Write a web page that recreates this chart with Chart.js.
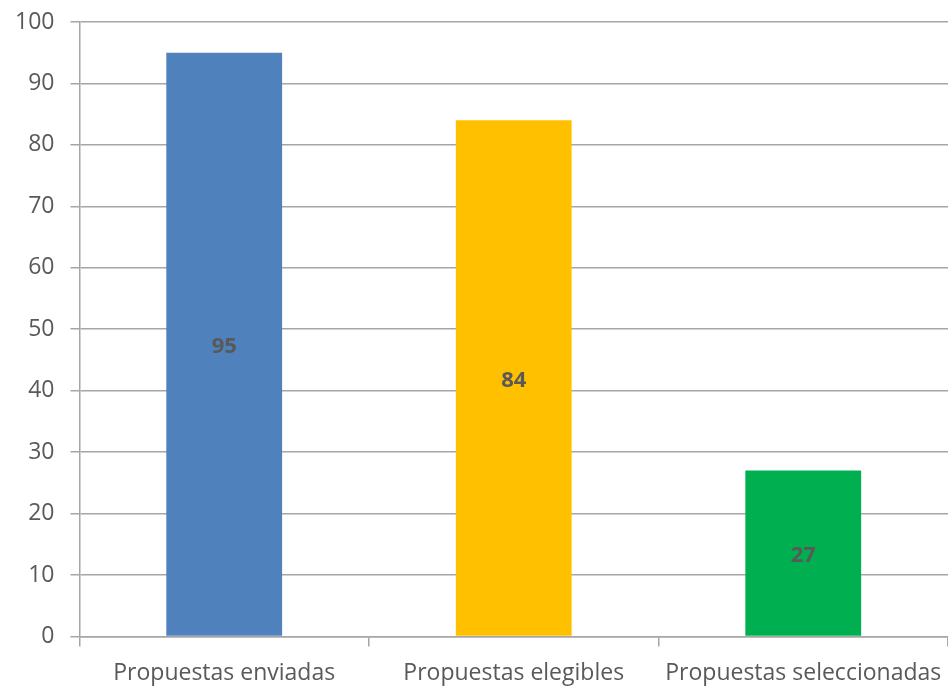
<!DOCTYPE html>
<html>
<head>
<meta charset="utf-8">
<script src="https://cdn.jsdelivr.net/npm/chart.js@4.4.0/dist/chart.umd.min.js"></script>
<style>
  html, body { margin: 0; padding: 0; background: #fff; }
  #wrap { width: 948px; height: 687px; position: relative; }
</style>
</head>
<body>
<div id="wrap"><canvas id="grafico"></canvas></div>
<script>
// Datos del gráfico
const categorias = ['Propuestas enviadas', 'Propuestas elegibles', 'Propuestas seleccionadas'];
const valores    = [95, 84, 27];
const colores    = ['#4F81BD', '#FFC000', '#00B050'];
const ejeY       = { min: 0, max: 100, paso: 10 };

const GRIS = '#A6A6A6';
const FUENTE = "'Open Sans', sans-serif";
const TAM = 23;

// Etiquetas de valor en el centro de cada barra
const etiquetasCentro = {
  id: 'etiquetasCentro',
  afterDatasetsDraw(chart) {
    const ctx = chart.ctx;
    const meta = chart.getDatasetMeta(0);
    ctx.save();
    ctx.font = 'bold ' + (TAM - 1) + 'px ' + FUENTE;
    ctx.fillStyle = '#595959';
    ctx.textAlign = 'center';
    ctx.textBaseline = 'middle';
    meta.data.forEach((bar, i) => {
      const y = (bar.y + bar.base) / 2;
      ctx.fillText(String(valores[i]), bar.x, y + 3);
    });
    ctx.restore();
  }
};

// Sin relleno extra por las etiquetas de los extremos
function sinRelleno(scale) {
  scale.paddingTop = 0; scale.paddingBottom = 0;
  scale.paddingLeft = 0; scale.paddingRight = 0;
}

new Chart(document.getElementById('grafico'), {
  type: 'bar',
  data: {
    labels: categorias,
    datasets: [{
      data: valores,
      backgroundColor: colores,
      borderWidth: 0,
      barPercentage: 0.4,
      categoryPercentage: 1.0,
    }],
  },
  options: {
    responsive: true,
    maintainAspectRatio: false,
    animation: false,
    layout: { padding: { left: -1, top: 22, right: 0, bottom: -13 } },
    plugins: {
      legend: { display: false },
      tooltip: { enabled: false },
    },
    scales: {
      x: {
        afterFit: sinRelleno,
        grid: { offset: true, drawOnChartArea: false, drawTicks: true, tickLength: 10, color: GRIS, lineWidth: 1.5 },
        border: { display: true, color: GRIS, width: 1.5 },
        ticks: { color: '#595959', font: { family: FUENTE, size: TAM }, padding: 13, maxRotation: 0, autoSkip: false },
      },
      y: {
        afterFit: sinRelleno,
        min: ejeY.min, max: ejeY.max,
        grid: { color: GRIS, lineWidth: 1.5, tickLength: 9 },
        border: { display: true, color: GRIS, width: 1.5 },
        ticks: { stepSize: ejeY.paso, color: '#595959', font: { family: FUENTE, size: TAM }, padding: 16 },
      },
    },
  },
  plugins: [etiquetasCentro],
});
</script>
</body>
</html>
